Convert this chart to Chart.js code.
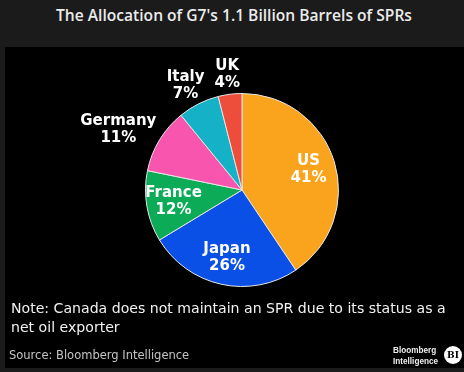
<!DOCTYPE html>
<html lang="en">
<head>
  <meta charset="UTF-8">
  <title>G7 SPR allocation</title>
  <script src="https://cdn.jsdelivr.net/npm/chart.js"></script>
  <style>
    html, body { margin: 0; padding: 0; }
    body { width: 464px; height: 372px; background: #1b1b1b; position: relative; overflow: hidden; font-family: "DejaVu Sans", sans-serif; }
    .titulo {
      position: absolute; left: 0; top: 4px; width: 468px; text-align: center;
      font-family: "Open Sans", sans-serif; font-weight: 600; font-size: 15.6px; color: #ececec;
    }
    .panel { position: absolute; left: 5px; top: 47px; width: 459px; height: 321px; background: #000; }
    .nota {
      position: absolute; left: 6px; top: 252px; width: 450px;
      font-size: 14.1px; line-height: 19px; color: #f2f2f2;
    }
    .fuente { position: absolute; left: 4px; top: 301px; font-size: 11.5px; color: #c4c4c4; }
    .logo {
      position: absolute; left: 388px; top: 298px; font-family: "Liberation Sans", sans-serif;
      font-weight: bold; font-size: 8.2px; line-height: 11px; color: #f0f0f0;
    }
    .bi {
      position: absolute; left: 439px; top: 299px; width: 18px; height: 18px; border-radius: 50%;
      background: #fff; color: #000; font-family: "DejaVu Serif", serif; font-weight: bold;
      font-size: 9px; line-height: 18px; text-align: center;
    }
  </style>
</head>
<body>
  <div class="titulo">The Allocation of G7's 1.1 Billion Barrels of SPRs</div>
  <div class="panel">
    <canvas id="grafico" width="459" height="321"></canvas>
    <div class="nota">Note: Canada does not maintain an SPR due to its status as a net oil exporter</div>
    <div class="fuente">Source: Bloomberg Intelligence</div>
    <div class="logo">Bloomberg<br>Intelligence</div>
    <div class="bi">BI</div>
  </div>

  <script>
    const paises = ['US', 'Japan', 'France', 'Germany', 'Italy', 'UK'];
    const porcentajes = [41, 26, 12, 11, 7, 4];
    const colores = ['#f9a41c', '#0b50e6', '#0bab57', '#f856ae', '#15b2c7', '#ef4d3c'];
    // las etiquetas de estos paises van fuera de la tarta
    const fuera = ['Germany', 'Italy', 'UK'];

    const etiquetas = {
      id: 'etiquetas',
      afterDatasetsDraw(chart) {
        const ctx = chart.ctx;
        const arcos = chart.getDatasetMeta(0).data;
        ctx.save();
        ctx.font = 'bold 15px "DejaVu Sans"';
        ctx.fillStyle = '#ffffff';
        ctx.textAlign = 'center';
        ctx.textBaseline = 'middle';
        const alto = 17;
        arcos.forEach((arco, i) => {
          const a = (arco.startAngle + arco.endAngle) / 2;
          const ux = Math.cos(a), uy = Math.sin(a);
          const lineas = [paises[i], porcentajes[i] + '%'];
          let cx, cy;
          if (fuera.includes(paises[i])) {
            const ancho = Math.max(...lineas.map(t => ctx.measureText(t).width));
            const d = arco.outerRadius + 10;
            cx = arco.x + ux * d + ux * ancho / 2;
            cy = arco.y + uy * d + uy * alto * 0.6;
          } else {
            const d = arco.outerRadius * 0.72;
            cx = arco.x + ux * d;
            cy = arco.y + uy * d;
          }
          ctx.fillText(lineas[0], cx, cy - alto / 2);
          ctx.fillText(lineas[1], cx, cy + alto / 2);
        });
        ctx.restore();
      }
    };

    new Chart(document.getElementById('grafico'), {
      type: 'pie',
      data: {
        labels: paises,
        datasets: [{
          data: porcentajes,
          backgroundColor: colores,
          borderColor: '#e6e6e6',
          borderWidth: 1
        }]
      },
      options: {
        responsive: false,
        animation: false,
        layout: { padding: { left: 140, right: 125, top: 46, bottom: 81 } },
        plugins: { legend: { display: false }, tooltip: { enabled: false } }
      },
      plugins: [etiquetas]
    });
  </script>
</body>
</html>
